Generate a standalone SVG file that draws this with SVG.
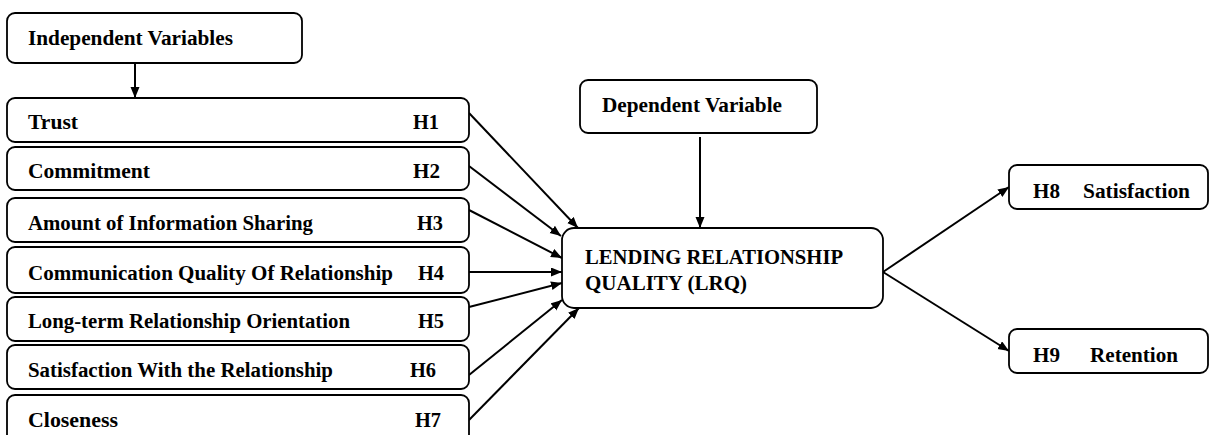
<svg xmlns="http://www.w3.org/2000/svg" width="1211" height="435" viewBox="0 0 1211 435">
<style>
.box{fill:#fff;stroke:#000;stroke-width:1.8}
.t{font-family:"Liberation Serif","Times New Roman",serif;font-weight:bold;font-size:20px;fill:#000}
.c{stroke:#000;stroke-width:2;fill:none;marker-end:url(#ah)}
</style>
<defs>
<marker id="ah" markerUnits="userSpaceOnUse" markerWidth="12" markerHeight="10" refX="11" refY="4.5" orient="auto">
<path d="M0,0 L11,4.5 L0,9 z" fill="#000"/>
</marker>
</defs>
<rect width="1211" height="435" fill="#fff"/>
<g id="connectors">
<line class="c" x1="135" y1="63" x2="135" y2="98"/>
<line class="c" x1="469" y1="113" x2="578" y2="228"/>
<line class="c" x1="469" y1="166" x2="561" y2="236"/>
<line class="c" x1="469" y1="210" x2="562" y2="258"/>
<line class="c" x1="469" y1="272" x2="562" y2="272"/>
<line class="c" x1="469" y1="307" x2="562" y2="283"/>
<line class="c" x1="469" y1="375" x2="562" y2="300"/>
<line class="c" x1="469" y1="420" x2="579" y2="308"/>
<line class="c" x1="700" y1="137" x2="700" y2="228"/>
<line class="c" x1="883" y1="272" x2="1009" y2="187"/>
<line class="c" x1="883" y1="272" x2="1009" y2="351"/>
</g>
<g id="independent">
<rect class="box" x="7" y="13" width="295" height="50" rx="8"/>
<text class="t" x="28" y="45" textLength="205" lengthAdjust="spacingAndGlyphs">Independent Variables</text>
</g>
<g id="trust">
<rect class="box" x="7" y="98" width="462" height="44" rx="8"/>
<text class="t" x="28" y="129" textLength="50" lengthAdjust="spacingAndGlyphs">Trust</text>
<text class="t" x="413" y="129" textLength="26" lengthAdjust="spacingAndGlyphs">H1</text>
</g>
<g id="commitment">
<rect class="box" x="7" y="147" width="462" height="43" rx="8"/>
<text class="t" x="28" y="178" textLength="122" lengthAdjust="spacingAndGlyphs">Commitment</text>
<text class="t" x="413" y="178" textLength="27" lengthAdjust="spacingAndGlyphs">H2</text>
</g>
<g id="amount">
<rect class="box" x="7" y="198" width="462" height="44" rx="8"/>
<text class="t" x="28" y="230" textLength="285" lengthAdjust="spacingAndGlyphs">Amount of Information Sharing</text>
<text class="t" x="417" y="230" textLength="26" lengthAdjust="spacingAndGlyphs">H3</text>
</g>
<g id="communication">
<rect class="box" x="7" y="247" width="462" height="46" rx="8"/>
<text class="t" x="28" y="280" textLength="365" lengthAdjust="spacingAndGlyphs">Communication Quality  Of Relationship</text>
<text class="t" x="418" y="280" textLength="26" lengthAdjust="spacingAndGlyphs">H4</text>
</g>
<g id="longterm">
<rect class="box" x="7" y="297" width="462" height="44" rx="8"/>
<text class="t" x="28" y="328" textLength="322" lengthAdjust="spacingAndGlyphs">Long-term Relationship Orientation</text>
<text class="t" x="418" y="328" textLength="26" lengthAdjust="spacingAndGlyphs">H5</text>
</g>
<g id="satisfaction-rel">
<rect class="box" x="7" y="345" width="462" height="44" rx="8"/>
<text class="t" x="28" y="377" textLength="305" lengthAdjust="spacingAndGlyphs">Satisfaction With the Relationship</text>
<text class="t" x="410" y="377" textLength="26" lengthAdjust="spacingAndGlyphs">H6</text>
</g>
<g id="closeness">
<rect class="box" x="7" y="395" width="462" height="50" rx="8"/>
<text class="t" x="28" y="427" textLength="90" lengthAdjust="spacingAndGlyphs">Closeness</text>
<text class="t" x="415" y="427" textLength="26" lengthAdjust="spacingAndGlyphs">H7</text>
</g>
<g id="dependent">
<rect class="box" x="580" y="80" width="237" height="53" rx="8"/>
<text class="t" x="602" y="112" textLength="180" lengthAdjust="spacingAndGlyphs">Dependent Variable</text>
</g>
<g id="lrq">
<rect class="box" x="562" y="228" width="321" height="80" rx="12"/>
<text class="t" x="585" y="264" textLength="258" lengthAdjust="spacingAndGlyphs">LENDING RELATIONSHIP</text>
<text class="t" x="585" y="290" textLength="162" lengthAdjust="spacingAndGlyphs">QUALITY (LRQ)</text>
</g>
<g id="h8">
<rect class="box" x="1009" y="165" width="199" height="44" rx="8"/>
<text class="t" x="1033" y="198" textLength="27" lengthAdjust="spacingAndGlyphs">H8</text>
<text class="t" x="1083" y="198" textLength="107" lengthAdjust="spacingAndGlyphs">Satisfaction</text>
</g>
<g id="h9">
<rect class="box" x="1009" y="329" width="199" height="44" rx="8"/>
<text class="t" x="1033" y="362" textLength="27" lengthAdjust="spacingAndGlyphs">H9</text>
<text class="t" x="1090" y="362" textLength="88" lengthAdjust="spacingAndGlyphs">Retention</text>
</g>
</svg>
